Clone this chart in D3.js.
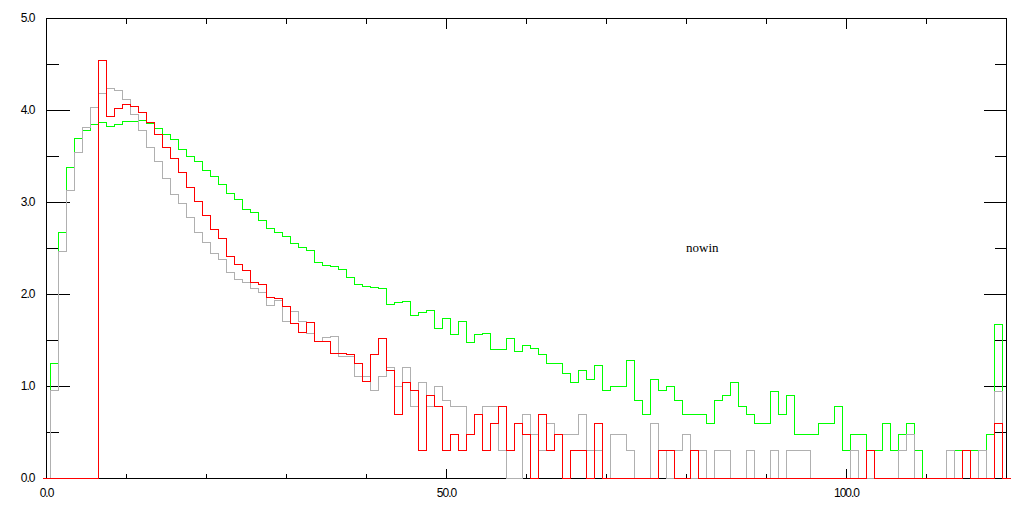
<!DOCTYPE html>
<html>
<head>
<meta charset="utf-8">
<script src="https://cdn.jsdelivr.net/npm/d3@7"></script>
<style>
  html, body { margin: 0; padding: 0; background: white; }
  svg { display: block; }
</style>
</head>
<body>
<svg id="chart"></svg>
<script>
var WIDTH = 1024,
    HEIGHT = 512,
    GREEN_COLOR = "#00ff00",
    GRAY_COLOR = "#b0b0b0",
    RED_COLOR = "#ff0000",
    LINE_COLOR = "black";

// bin centres 0..120, one unit wide
var BINS = d3.range(0, 121);

var GREEN = [0,
    1.25, 2.67, 3.38, 3.70, 3.78, 3.85, 3.87, 3.83, 3.85, 3.88,
    3.88, 3.89, 3.86, 3.80, 3.74, 3.68, 3.58, 3.50, 3.45, 3.35,
    3.28, 3.20, 3.10, 3.03, 2.92, 2.89, 2.80, 2.72, 2.67, 2.63,
    2.55, 2.51, 2.48, 2.35, 2.32, 2.30, 2.27, 2.18, 2.11, 2.09,
    2.08, 2.06, 1.89, 1.91, 1.92, 1.77, 1.80, 1.83, 1.63, 1.74,
    1.56, 1.71, 1.48, 1.56, 1.58, 1.40, 1.40, 1.52, 1.38, 1.45,
    1.41, 1.35, 1.25, 1.25, 1.14, 1.04, 1.17, 1.08, 1.23, 0.96,
    1.00, 1.00, 1.28, 0.85, 0.70, 1.08, 0.96, 1.00, 0.85, 0.70,
    0.70, 0.70, 0.60, 0.85, 0.90, 1.04, 0.78, 0.70, 0.60, 0.60,
    0.95, 0.70, 0.90, 0.48, 0.48, 0.48, 0.60, 0.60, 0.78, 0.30,
    0.48, 0.48, 0.30, 0.30, 0.60, 0.30, 0.48, 0.60, 0.30, 0,
    0, 0, 0, 0.30, 0.30, 0.30, 0.30, 0.48, 1.67, 0];

var GRAY = [0,
    0.96, 2.47, 3.13, 3.54, 3.82, 4.03, 4.18, 4.24, 4.22, 4.12,
    3.96, 3.78, 3.60, 3.45, 3.26, 3.09, 2.99, 2.84, 2.67, 2.57,
    2.45, 2.38, 2.24, 2.16, 2.13, 2.07, 2.02, 1.88, 1.93, 1.71,
    1.82, 1.71, 1.58, 1.49, 1.53, 1.54, 1.33, 1.33, 1.11, 1.11,
    0.96, 1.11, 1.21, 1.00, 1.21, 0.78, 1.04, 0.78, 1.00, 0.85,
    0.78, 0.78, 0.48, 0.70, 0.78, 0.78, 0.30, 0, 0, 0.70,
    0.48, 0.30, 0.60, 0.48, 0.48, 0.48, 0.70, 0.30, 0.30, 0,
    0.48, 0.48, 0.30, 0, 0, 0.60, 0.30, 0, 0.30, 0.48,
    0, 0.30, 0, 0.30, 0.30, 0, 0, 0.30, 0, 0,
    0.30, 0, 0.30, 0.30, 0.30, 0, 0, 0, 0, 0,
    0.30, 0, 0, 0, 0, 0, 0.30, 0.48, 0, 0,
    0, 0, 0.30, 0, 0.30, 0, 0.30, 0, 0.95, 0];

var RED = [0,
    0, 0, 0, 0, 0, 0, 4.54, 3.93, 4.02, 4.07,
    4.04, 3.98, 3.87, 3.74, 3.60, 3.48, 3.33, 3.16, 3.01, 2.86,
    2.71, 2.61, 2.41, 2.33, 2.26, 2.13, 2.11, 1.97, 1.96, 1.87,
    1.68, 1.59, 1.70, 1.49, 1.49, 1.36, 1.36, 1.35, 1.25, 1.05,
    1.35, 1.52, 1.17, 0.70, 1.04, 0.96, 0.30, 0.90, 0.78, 0.30,
    0.48, 0.30, 0.48, 0.70, 0.30, 0.60, 0.78, 0.30, 0.60, 0.48,
    0, 0.70, 0.30, 0.48, 0, 0.30, 0.30, 0, 0.60, 0,
    0, 0, 0, 0, 0, 0, 0.30, 0.30, 0, 0,
    0.30, 0, 0, 0, 0, 0, 0, 0, 0, 0,
    0, 0, 0, 0, 0, 0, 0, 0, 0, 0,
    0, 0, 0.30, 0, 0, 0, 0, 0, 0, 0,
    0, 0, 0, 0, 0.30, 0, 0, 0, 0.60, 0];

var X_LABELS = [0, 50, 100],
    X_TICKS = [10, 20, 30, 40, 60, 70, 80, 90, 110],
    Y_LABELS = [0, 1, 2, 3, 4, 5],
    Y_MAJOR = [1, 2, 3, 4],
    Y_MINOR = [0.5, 1.5, 2.5, 3.5, 4.5];

var x = d3.scaleLinear()
    .domain([0, 120])
    .range([46.5, 1006.5]);
var y = d3.scaleLinear()
    .domain([0, 5])
    .range([478.5, 18.5]);

var svg = d3.select("#chart")
    .attr("width", WIDTH)
    .attr("height", HEIGHT)
    .style("background", "white");

// frame
svg.append("rect")
    .attr("x", x(0))
    .attr("y", y(5))
    .attr("width", x(120) - x(0))
    .attr("height", y(0) - y(5))
    .style("fill", "none")
    .style("stroke", LINE_COLOR)
    .style("stroke-width", 1)
    .style("shape-rendering", "crispEdges");

function tickAxis(gen, tx, ty) {
    var g = svg.append("g")
        .attr("transform", "translate(" + tx + "," + ty + ")")
        .call(gen.offset(0).tickFormat("").tickSizeOuter(0));
    g.select(".domain").remove();
    g.selectAll("line")
        .style("stroke", LINE_COLOR)
        .style("shape-rendering", "crispEdges");
}

// inward ticks on all four sides
tickAxis(d3.axisRight(y).tickValues(Y_MAJOR).tickSize(23), x(0), 0);
tickAxis(d3.axisRight(y).tickValues(Y_MINOR).tickSize(12), x(0), 0);
tickAxis(d3.axisLeft(y).tickValues(Y_MAJOR).tickSize(23), x(120), 0);
tickAxis(d3.axisLeft(y).tickValues(Y_MINOR).tickSize(12), x(120), 0);
tickAxis(d3.axisTop(x).tickValues(X_TICKS).tickSize(5), 0, y(0));
tickAxis(d3.axisTop(x).tickValues([50, 100]).tickSize(10), 0, y(0));
tickAxis(d3.axisBottom(x).tickValues(X_TICKS).tickSize(5), 0, y(5));
tickAxis(d3.axisBottom(x).tickValues([50, 100]).tickSize(10), 0, y(5));

// labels
var yLab = svg.append("g")
    .attr("transform", "translate(" + x(0) + ",0)")
    .call(d3.axisLeft(y).offset(0).tickValues(Y_LABELS).tickSize(0)
        .tickPadding(12).tickFormat(d3.format(".1f")));
var xLab = svg.append("g")
    .attr("transform", "translate(0," + y(0) + ")")
    .call(d3.axisBottom(x).offset(0).tickValues(X_LABELS).tickSize(0)
        .tickPadding(10).tickFormat(d3.format(".1f")));
[yLab, xLab].forEach(function(g) {
    g.select(".domain").remove();
    g.selectAll("text")
        .style("font-family", "'Liberation Sans', Arial, sans-serif")
        .style("font-size", "12px")
        .style("letter-spacing", "-1px")
        .style("fill", "black");
});

// step histograms
var step = d3.line()
    .x(function(d) { return x(d[0]); })
    .y(function(d) { return y(d[1]); })
    .curve(d3.curveStepAfter);

function drawSeries(values, color) {
    var pts = BINS.map(function(b, i) { return [b - 0.5, values[i]]; });
    pts.push([BINS[BINS.length - 1] + 0.5, values[values.length - 1]]);
    svg.append("path")
        .datum(pts)
        .attr("d", step)
        .style("fill", "none")
        .style("stroke", color)
        .style("stroke-width", 1)
        .style("shape-rendering", "crispEdges");
}

drawSeries(GREEN, GREEN_COLOR);
drawSeries(GRAY, GRAY_COLOR);
drawSeries(RED, RED_COLOR);

svg.append("text")
    .attr("x", 686)
    .attr("y", 252)
    .style("font-family", "'Liberation Serif', 'Times New Roman', serif")
    .style("font-size", "13px")
    .style("fill", "black")
    .text("nowin");
</script>
</body>
</html>
